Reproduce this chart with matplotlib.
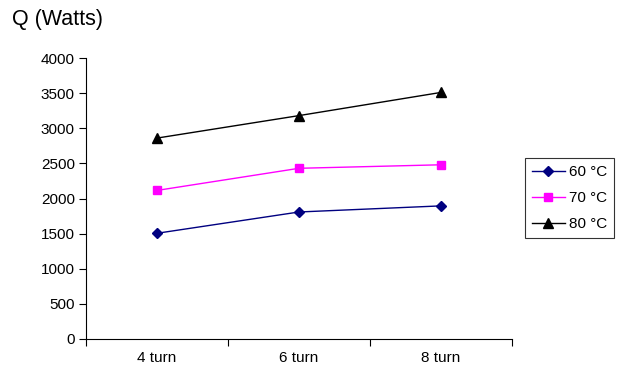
import matplotlib
matplotlib.use("Agg")
import matplotlib.pyplot as plt
import numpy as np

categories = ["4 turn", "6 turn", "8 turn"]
series_names = ["60 °C", "70 °C", "80 °C"]
q_60 = [1505, 1808, 1895]
q_70 = [2115, 2430, 2480]
q_80 = [2860, 3180, 3510]
y_ticks = [0, 500, 1000, 1500, 2000, 2500, 3000, 3500, 4000]

plt.rcParams['font.family'] = ['Liberation Sans', 'DejaVu Sans']

fig = plt.figure(figsize=(6.17, 3.69), dpi=100)
ax = fig.add_axes([86/617, 30/369, (512-86)/617, (339-58)/369])

x = np.arange(len(categories)) + 0.5
styles = [("#000080", "D", 5), ("#FF00FF", "s", 6), ("#000000", "^", 7)]
for vals, name, (c, m, ms) in zip([q_60, q_70, q_80], series_names, styles):
    ax.plot(x, vals, color=c, marker=m, markersize=ms, linewidth=1.0, label=name)

ax.set_xlim(0, len(categories))
ax.set_ylim(0, 4000)
ax.set_yticks(y_ticks)
ax.set_yticklabels([str(v) for v in y_ticks], fontsize=11)
ax.set_xticks(np.arange(len(categories) + 1))
ax.set_xticklabels([])
ax.set_xticks(x, minor=True)
ax.set_xticklabels(categories, minor=True, fontsize=11)
ax.tick_params(axis='x', which='minor', length=0, pad=9)
ax.tick_params(axis='x', which='major', length=5, direction='out', width=0.8)
ax.tick_params(axis='y', length=5, direction='out', width=0.8, pad=3)
for s in ['top', 'right']:
    ax.spines[s].set_visible(False)
for s in ['left', 'bottom']:
    ax.spines[s].set_linewidth(0.8)

fig.text(12/617, 1 - 20/369, "Q (Watts)", fontsize=15.5, va='center', ha='left')

leg = ax.legend(loc='center left', bbox_to_anchor=(525/617, 1 - 198/369),
                bbox_transform=fig.transFigure, fontsize=11, frameon=True,
                fancybox=False, edgecolor='black', handlelength=2.15,
                borderaxespad=0, labelspacing=0.78, handletextpad=0.3,
                borderpad=0.45)
leg.get_frame().set_linewidth(0.8)

fig.savefig("out.png", dpi=100)
